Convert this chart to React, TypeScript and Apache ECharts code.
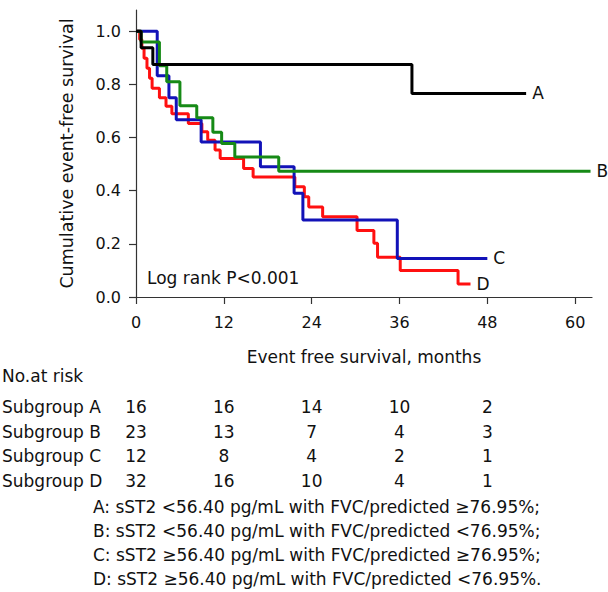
import React, { useEffect, useRef } from "react";
import * as echarts from "echarts";

const FONT = '"DejaVu Sans", "Liberation Sans", sans-serif';

const xTicks = [0, 12, 24, 36, 48, 60];
const yTicks = [0, 0.2, 0.4, 0.6, 0.8, 1.0];

const timesA = [0, 0.7, 2.3, 37.7, 53.3];
const survA = [1, 0.938, 0.875, 0.766, 0.766];

const timesB = [0, 0.7, 3.2, 4.2, 6.0, 8.3, 10.5, 11.7, 13.5, 19.5, 62.1];
const survB = [1, 0.96, 0.87, 0.81, 0.72, 0.675, 0.62, 0.578, 0.527, 0.473, 0.473];

const timesC = [0, 2.9, 4.5, 5.5, 8.9, 17.0, 21.6, 22.8, 35.7, 48.0];
const survC = [1, 0.833, 0.75, 0.667, 0.583, 0.49, 0.39, 0.29, 0.145, 0.145];

const timesD = [0, 0.5, 0.8, 1.1, 1.5, 1.85, 2.2, 3.2, 4.1, 4.9, 7.15, 9.0, 9.8, 10.8, 11.5, 14.7, 16.0, 21.7, 23.0, 23.6, 25.5, 30.2, 32.5, 33.0, 36.1, 44.0, 45.7];
const survD = [1, 0.969, 0.936, 0.898, 0.861, 0.823, 0.786, 0.75, 0.718, 0.69, 0.653, 0.622, 0.59, 0.553, 0.521, 0.484, 0.452, 0.415, 0.377, 0.339, 0.302, 0.25, 0.202, 0.15, 0.1, 0.049, 0.049];

const riskTimes = [0, 12, 24, 36, 48];
const riskLabels = ["Subgroup A", "Subgroup B", "Subgroup C", "Subgroup D"];
const riskA = [16, 16, 14, 10, 2];
const riskB = [23, 13, 7, 4, 3];
const riskC = [12, 8, 4, 2, 1];
const riskD = [32, 16, 10, 4, 1];

const legendLines = [
  "A: sST2 <56.40 pg/mL with FVC/predicted \u226576.95%;",
  "B: sST2 <56.40 pg/mL with FVC/predicted <76.95%;",
  "C: sST2 \u226556.40 pg/mL with FVC/predicted \u226576.95%;",
  "D: sST2 \u226556.40 pg/mL with FVC/predicted <76.95%.",
];

const COLORS = { A: "#000000", B: "#168a16", C: "#1212b8", D: "#ff1010" };

function makeSeries(name: string, times: number[], vals: number[], color: string) {
  return {
    name,
    type: "line",
    step: "end",
    symbol: "none",
    lineStyle: { width: 3, color },
    itemStyle: { color },
    data: times.map((t, i) => [t, vals[i]]),
    endLabel: {
      show: true,
      formatter: name,
      color: "#111",
      fontSize: 17,
      fontFamily: FONT,
      distance: 6,
    },
  };
}

export default function App() {
  const ref = useRef<HTMLDivElement>(null);
  useEffect(() => {
    document.body.style.margin = "0";
    const chart = echarts.init(ref.current!, null, { renderer: "svg" });
    const axisColor = "#333";
    chart.setOption({
      animation: false,
      grid: { left: 136, right: 16, top: 10, bottom: 295, containLabel: false },
      xAxis: {
        type: "value",
        min: 0,
        max: 62.3,
        interval: 12,
        name: "Event free survival, months",
        nameLocation: "middle",
        nameGap: 51,
        nameTextStyle: { fontSize: 17, fontFamily: FONT, color: "#111" },
        axisLine: { show: true, onZero: false, lineStyle: { color: axisColor, width: 1.2 } },
        axisTick: { show: true, inside: false, length: 7, customValues: xTicks, lineStyle: { color: axisColor, width: 1.2 } },
        axisLabel: { customValues: xTicks, fontSize: 16, fontFamily: FONT, color: "#111", margin: 17 },
        splitLine: { show: false },
      },
      yAxis: {
        type: "value",
        min: 0,
        max: 1.08,
        interval: 0.2,
        name: "Cumulative event-free survival",
        nameLocation: "middle",
        nameGap: 60,
        nameTextStyle: { fontSize: 17.5, fontFamily: FONT, color: "#111" },
        axisLine: { show: true, onZero: false, lineStyle: { color: axisColor, width: 1.2 } },
        axisTick: { show: true, inside: false, length: 7, customValues: yTicks, lineStyle: { color: axisColor, width: 1.2 } },
        axisLabel: {
          customValues: yTicks,
          fontSize: 16,
          fontFamily: FONT,
          color: "#111",
          margin: 15,
          formatter: (v: number) => v.toFixed(1),
        },
        splitLine: { show: false },
      },
      series: [
        makeSeries("D", timesD, survD, COLORS.D),
        makeSeries("C", timesC, survC, COLORS.C),
        makeSeries("B", timesB, survB, COLORS.B),
        makeSeries("A", timesA, survA, COLORS.A),
      ],
    });

    const px = (t: number) => chart.convertToPixel({ xAxisIndex: 0 }, t) as number;
    const txt = (text: string, x: number, y: number, align = "left", size = 17) => ({
      type: "text",
      x,
      y,
      style: {
        text,
        fontSize: size,
        fontFamily: FONT,
        fill: "#111",
        align,
        verticalAlign: "middle",
        textAlign: align,
        textVerticalAlign: "middle",
      },
    });
    const rows = [riskA, riskB, riskC, riskD];
    const rowY = [407, 431.5, 456, 481];
    const graphics: any[] = [];
    graphics.push(txt("Log rank P<0.001", 147, 278));
    graphics.push(txt("No.at risk", 2, 376));
    rows.forEach((row, r) => {
      graphics.push(txt(riskLabels[r], 2, rowY[r]));
      row.forEach((n, i) => {
        graphics.push(txt(String(n), px(riskTimes[i]), rowY[r], "center"));
      });
    });
    const legY = [507, 531, 555, 579];
    legendLines.forEach((l, i) => graphics.push(txt(l, 93, legY[i])));
    chart.setOption({ graphic: graphics });

    return () => chart.dispose();
  }, []);
  return <div ref={ref} style={{ width: 608, height: 592 }} />;
}
